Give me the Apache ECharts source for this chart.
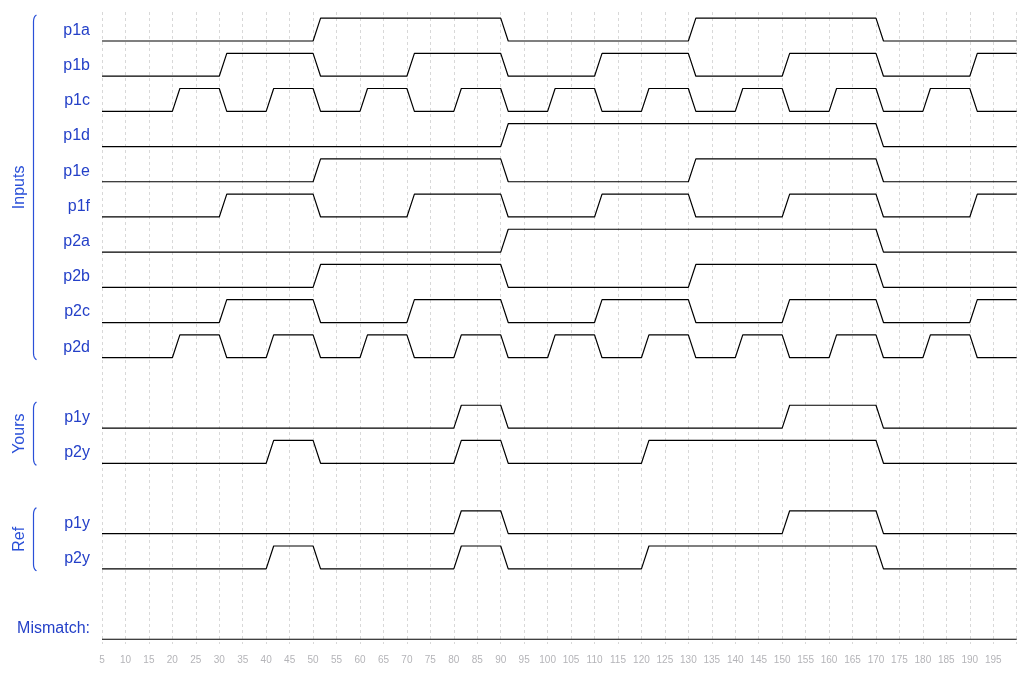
<!DOCTYPE html>
<html>
<head>
<meta charset="utf-8">
<script src="https://cdn.jsdelivr.net/npm/echarts@6/dist/echarts.min.js"></script>
<style>html,body{margin:0;padding:0;background:#fff}#c{width:1024px;height:673px}</style>
</head>
<body>
<div id="c"></div>
<script>
// time range and ticks
const tStart = 5, tEnd = 200, tickStep = 5;
// signal names and row positions
const signalNames = ['p1a','p1b','p1c','p1d','p1e','p1f','p2a','p2b','p2c','p2d','p1y','p2y','p1y','p2y','Mismatch:'];
const signalRows  = [0,1,2,3,4,5,6,7,8,9,11,12,14,15,17];
// edge times (signal toggles at each time, starts low)
const p1aEdges = [50, 90, 130, 170];
const p1bEdges = [30, 50, 70, 90, 110, 130, 150, 170, 190];
const p1cEdges = [20, 30, 40, 50, 60, 70, 80, 90, 100, 110, 120, 130, 140, 150, 160, 170, 180, 190];
const p1dEdges = [90, 170];
const p1eEdges = [50, 90, 130, 170];
const p1fEdges = [30, 50, 70, 90, 110, 130, 150, 170, 190];
const p2aEdges = [90, 170];
const p2bEdges = [50, 90, 130, 170];
const p2cEdges = [30, 50, 70, 90, 110, 130, 150, 170, 190];
const p2dEdges = [20, 30, 40, 50, 60, 70, 80, 90, 100, 110, 120, 130, 140, 150, 160, 170, 180, 190];
const yoursP1yEdges = [80, 90, 150, 170];
const yoursP2yEdges = [40, 50, 80, 90, 120, 170];
const refP1yEdges = [80, 90, 150, 170];
const refP2yEdges = [40, 50, 80, 90, 120, 170];
const mismatchEdges = [];
const allEdges = [p1aEdges,p1bEdges,p1cEdges,p1dEdges,p1eEdges,p1fEdges,p2aEdges,p2bEdges,p2cEdges,p2dEdges,
                  yoursP1yEdges,yoursP2yEdges,refP1yEdges,refP2yEdges,mismatchEdges];
// groups
const groupNames = ['Inputs','Yours','Ref'];
const groupFirstRow = [0, 11, 14];
const groupLastRow  = [9, 12, 15];

const HIGH = 0.65, RISE = 1.6;
function wave(edges, row) {
  let lvl = 0;
  const pts = [[tStart, row]];
  edges.forEach(t => {
    pts.push([t, row - lvl * HIGH]);
    lvl = 1 - lvl;
    pts.push([t + RISE, row - lvl * HIGH]);
  });
  pts.push([tEnd, row - lvl * HIGH]);
  return pts;
}

const chart = echarts.init(document.getElementById('c'), null, {renderer: 'canvas'});
const series = allEdges.map((e, i) => ({
  type: 'line',
  data: wave(e, signalRows[i]),
  symbol: 'none',
  silent: true,
  animation: false,
  lineStyle: {color: '#000', width: 1.2}
}));

chart.setOption({
  animation: false,
  grid: {left: 102, right: 7.3, top: 12, bottom: 29},
  xAxis: {
    type: 'value', min: tStart, max: tEnd, interval: tickStep,
    axisLine: {show: false}, axisTick: {show: false},
    axisLabel: {color: '#b4b4b8', fontSize: 10, fontFamily: 'Liberation Sans, Arial, sans-serif', margin: 11, showMaxLabel: false},
    splitLine: {show: true, lineStyle: {color: '#d8d8d8', type: [3, 3], width: 1}}
  },
  yAxis: {
    type: 'value', inverse: true, min: -0.824, max: 17.135,
    show: false, splitLine: {show: false}
  },
  series: series
});

const g = [];
const font = 'Liberation Sans, Arial, sans-serif';
signalNames.forEach((n, i) => {
  const p = chart.convertToPixel({gridIndex: 0}, [tStart, signalRows[i] - 0.3]);
  g.push({type: 'text', x: 90, y: p[1], style: {text: n, fill: '#2440c8', font: '16px ' + font, align: 'right', verticalAlign: 'middle'}});
});
function quad(p0, p1, p2, n) {
  const out = [];
  for (let k = 0; k <= n; k++) {
    const t = k / n;
    out.push([(1-t)*(1-t)*p0[0] + 2*(1-t)*t*p1[0] + t*t*p2[0], (1-t)*(1-t)*p0[1] + 2*(1-t)*t*p1[1] + t*t*p2[1]]);
  }
  return out;
}
groupNames.forEach((n, i) => {
  const top = chart.convertToPixel({gridIndex: 0}, [tStart, groupFirstRow[i]])[1] - 26;
  const bot = chart.convertToPixel({gridIndex: 0}, [tStart, groupLastRow[i]])[1] + 2;
  const x = 33.5;
  const pts = quad([x+3, top], [x, top+1.5], [x, top+7], 6)
    .concat(quad([x, bot-7], [x, bot-1.5], [x+3, bot], 6));
  g.push({type: 'polyline', shape: {points: pts}, style: {stroke: '#2a50d8', fill: null, lineWidth: 1.2}});
  g.push({type: 'text', x: 20, y: (top + bot) / 2, rotation: Math.PI / 2,
          style: {text: n, fill: '#2a50d8', font: '16px ' + font, align: 'center', verticalAlign: 'middle'}});
});
chart.setOption({graphic: g});
</script>
</body>
</html>
